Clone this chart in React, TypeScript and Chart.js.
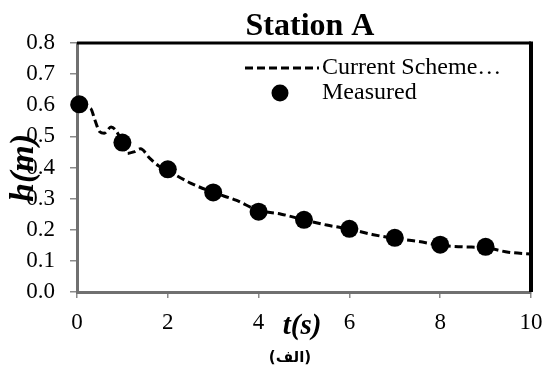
import React, { useEffect, useRef } from "react";
import { Chart, registerables } from "chart.js";

Chart.register(...registerables);

const titleText = "Station A";
const xTitle = "t(s)";
const yTitle = "h(m)";
const caption = "(الف)";
const seriesSimLabel = "Current Scheme…";
const seriesMeasLabel = "Measured";

const simT = [0.05, 0.3, 0.4, 0.5, 0.6, 0.75, 0.85, 1.0, 1.1, 1.25, 1.4, 1.6, 1.8, 2.0, 2.5, 3.0, 3.5, 4.0, 4.5, 5.0, 5.5, 6.0, 6.5, 7.0, 7.5, 8.0, 8.5, 9.0, 9.5, 10.0];
const simH = [0.6, 0.59, 0.55, 0.515, 0.51, 0.53, 0.52, 0.48, 0.445, 0.45, 0.46, 0.43, 0.405, 0.39, 0.35, 0.32, 0.295, 0.262, 0.25, 0.232, 0.215, 0.202, 0.185, 0.172, 0.163, 0.15, 0.145, 0.142, 0.128, 0.122];

const measT = [0.05, 1, 2, 3, 4, 5, 6, 7, 8, 9];
const measH = [0.603, 0.48, 0.394, 0.32, 0.258, 0.232, 0.203, 0.174, 0.152, 0.145];

const xTicks = [0, 2, 4, 6, 8, 10];
const yTicks = [0, 0.1, 0.2, 0.3, 0.4, 0.5, 0.6, 0.7, 0.8];

const SERIF = "'Liberation Serif', 'Times New Roman', serif";

export default function App() {
  const ref = useRef<HTMLCanvasElement>(null);

  useEffect(() => {
    document.body.style.margin = "0";
    const canvas = ref.current!;
    const overlay = {
      id: "overlay",
      beforeDatasetsDraw(chart: any) {
        const { ctx, chartArea: a } = chart;
        ctx.save();
        ctx.strokeStyle = "#000";
        ctx.lineWidth = 3;
        ctx.beginPath();
        ctx.moveTo(a.left, a.top);
        ctx.lineTo(a.right, a.top);
        ctx.stroke();
        ctx.lineWidth = 4;
        ctx.beginPath();
        ctx.moveTo(a.right, a.top - 1.5);
        ctx.lineTo(a.right, a.bottom);
        ctx.stroke();
        ctx.restore();
      },
      afterDraw(chart: any) {
        const { ctx } = chart;
        ctx.save();
        ctx.fillStyle = "#000";
        // title
        ctx.font = `bold 32px ${SERIF}`;
        ctx.textAlign = "center";
        ctx.textBaseline = "alphabetic";
        ctx.fillText(titleText, 310, 35);
        // legend
        ctx.strokeStyle = "#000";
        ctx.lineWidth = 3;
        ctx.setLineDash([8, 4]);
        ctx.beginPath();
        ctx.moveTo(245, 68);
        ctx.lineTo(319, 68);
        ctx.stroke();
        ctx.setLineDash([]);
        ctx.beginPath();
        ctx.arc(280, 93, 8.5, 0, Math.PI * 2);
        ctx.fill();
        ctx.font = `24px ${SERIF}`;
        ctx.textAlign = "left";
        ctx.textBaseline = "middle";
        ctx.fillText(seriesSimLabel, 322, 68);
        ctx.fillText(seriesMeasLabel, 322, 93);
        // x title
        ctx.font = `bold italic 29px ${SERIF}`;
        ctx.textAlign = "center";
        ctx.textBaseline = "middle";
        ctx.fillText(xTitle, 302, 327);
        // y title
        ctx.save();
        ctx.font = `bold italic 34px ${SERIF}`;
        ctx.translate(33, 168);
        ctx.rotate(-Math.PI / 2);
        ctx.textAlign = "center";
        ctx.textBaseline = "alphabetic";
        ctx.fillText(yTitle, 0, 0);
        ctx.restore();
        // caption
        ctx.font = `bold 15px 'DejaVu Sans', sans-serif`;
        ctx.textAlign = "center";
        ctx.textBaseline = "middle";
        ctx.fillText(caption, 290, 358);
        ctx.restore();
      },
    };

    const chart = new Chart(canvas, {
      type: "scatter",
      data: {
        datasets: [
          {
            label: seriesSimLabel,
            data: simT.map((t, i) => ({ x: t, y: simH[i] })),
            showLine: true,
            borderColor: "#000",
            borderWidth: 3,
            borderDash: [8, 4],
            pointRadius: 0,
            tension: 0.4,
            cubicInterpolationMode: "monotone",
            fill: false,
          } as any,
          {
            label: seriesMeasLabel,
            data: measT.map((t, i) => ({ x: t, y: measH[i] })),
            showLine: false,
            pointRadius: 9,
            pointBackgroundColor: "#000",
            pointBorderColor: "#000",
            pointBorderWidth: 0,
          },
        ],
      },
      options: {
        animation: false,
        responsive: false,
        maintainAspectRatio: false,
        clip: false as any,
        layout: { padding: { top: 43, right: 16, left: 0, bottom: 0 } },
        plugins: {
          legend: { display: false },
          title: { display: false },
          tooltip: { enabled: false },
        },
        scales: {
          x: {
            type: "linear",
            min: 0,
            max: 10,
            afterFit: (s: any) => {
              s.height = 86;
              s.paddingRight = 0;
              s.paddingLeft = 0;
            },
            afterBuildTicks: (s: any) => {
              s.ticks = xTicks.map((v) => ({ value: v }));
            },
            ticks: {
              font: { family: SERIF, size: 23 },
              color: "#000",
              padding: 11,
              maxRotation: 0,
              callback: (v: any) => String(v),
            },
            grid: { drawOnChartArea: false, drawTicks: true, tickLength: 6, color: "#8a8a8a", lineWidth: 1.5 },
            border: { display: true, color: "#707070", width: 3 },
          },
          y: {
            type: "linear",
            min: 0,
            max: 0.8,
            afterFit: (s: any) => {
              s.width = 77;
              s.paddingTop = 0;
              s.paddingBottom = 0;
            },
            afterBuildTicks: (s: any) => {
              s.ticks = yTicks.map((v) => ({ value: v }));
            },
            ticks: {
              font: { family: SERIF, size: 23 },
              color: "#000",
              padding: 15,
              callback: (v: any) => Number(v).toFixed(1),
            },
            grid: { drawOnChartArea: false, drawTicks: true, tickLength: 7, color: "#8a8a8a", lineWidth: 1.5 },
            border: { display: true, color: "#707070", width: 3 },
          },
        },
      },
      plugins: [overlay],
    });
    return () => chart.destroy();
  }, []);

  return (
    <div style={{ width: 547, height: 378, background: "#fff" }}>
      <canvas ref={ref} width={547} height={378} style={{ display: "block" }} />
    </div>
  );
}
